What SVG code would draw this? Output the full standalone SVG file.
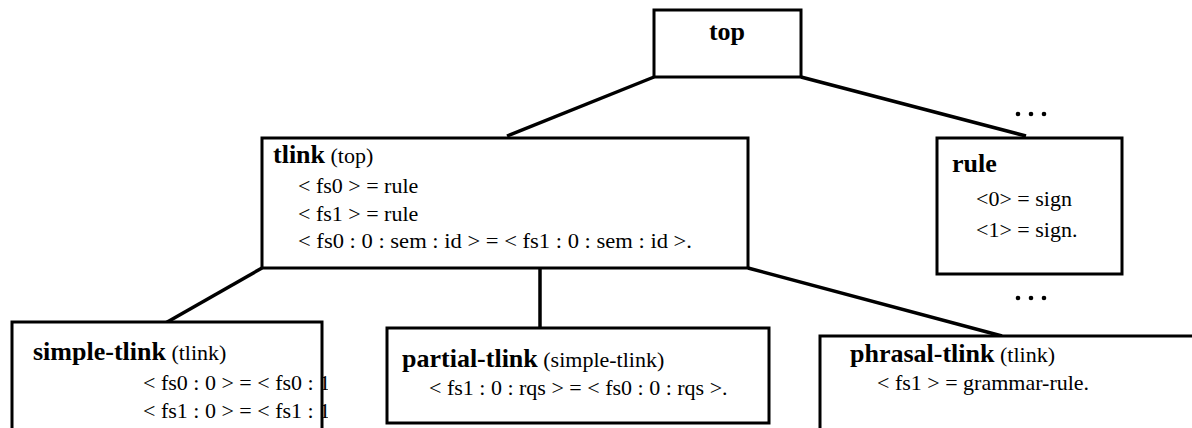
<svg xmlns="http://www.w3.org/2000/svg" width="1192" height="428" viewBox="0 0 1192 428">
<style>
.box{fill:#fff;stroke:#000;stroke-width:3}
.ln{stroke:#000;stroke-width:3.5;fill:none}
.t{font-family:"Liberation Serif","Times New Roman",serif;font-size:22px;fill:#000}
.b{font-family:"Liberation Serif","Times New Roman",serif;font-size:26px;font-weight:bold;fill:#000}
.dot{fill:#000}
</style>
<defs>
<clipPath id="clipSimple"><rect x="0" y="322" width="328" height="106"/></clipPath>
<clipPath id="clipPhrasal"><rect x="820" y="336" width="372" height="66"/></clipPath>
</defs>
<g id="connectors">
<line class="ln" x1="654" y1="77" x2="507" y2="136"/>
<line class="ln" x1="801" y1="77" x2="1026" y2="136"/>
<line class="ln" x1="262" y1="268" x2="162" y2="325"/>
<line class="ln" x1="540" y1="268" x2="540" y2="333"/>
<line class="ln" x1="748" y1="268" x2="1002" y2="336"/>
</g>
<g id="top">
<rect class="box" x="654" y="10" width="147" height="67"/>
<text class="b" x="727" y="40" text-anchor="middle">top</text>
</g>
<g id="tlink">
<rect class="box" x="262" y="138" width="486" height="130"/>
<text x="273" y="163"><tspan class="b">tlink</tspan><tspan class="t"> (top)</tspan></text>
<text class="t" x="298" y="193">&lt; fs0 &gt; = rule</text>
<text class="t" x="298" y="221">&lt; fs1 &gt; = rule</text>
<text class="t" x="298" y="248" textLength="394" lengthAdjust="spacingAndGlyphs">&lt; fs0 : 0 : sem : id &gt; = &lt; fs1 : 0 : sem : id &gt;.</text>
</g>
<g id="rule">
<rect class="box" x="937" y="138" width="185" height="136"/>
<text class="b" x="952" y="172">rule</text>
<text class="t" x="976" y="206">&lt;0&gt; = sign</text>
<text class="t" x="976" y="237">&lt;1&gt; = sign.</text>
</g>
<g id="dots-top">
<circle class="dot" cx="1018" cy="114" r="2.3"/>
<circle class="dot" cx="1031" cy="114" r="2.3"/>
<circle class="dot" cx="1044" cy="114" r="2.3"/>
</g>
<g id="dots-bottom">
<circle class="dot" cx="1018" cy="298" r="2.3"/>
<circle class="dot" cx="1031" cy="298" r="2.3"/>
<circle class="dot" cx="1044" cy="298" r="2.3"/>
</g>
<g id="simple-tlink">
<rect class="box" x="12" y="322" width="310" height="120"/>
<text x="33" y="360"><tspan class="b">simple-tlink</tspan><tspan class="t"> (tlink)</tspan></text>
<g clip-path="url(#clipSimple)">
<text class="t" x="143" y="390">&lt; fs0 : 0 &gt; = &lt; fs0 : 1</text>
<text class="t" x="143" y="418">&lt; fs1 : 0 &gt; = &lt; fs1 : 1</text>
</g>
</g>
<g id="partial-tlink">
<rect class="box" x="387" y="328" width="382" height="95"/>
<text x="402" y="367"><tspan class="b">partial-tlink</tspan><tspan class="t"> (simple-tlink)</tspan></text>
<text class="t" x="429" y="395">&lt; fs1 : 0 : rqs &gt; = &lt; fs0 : 0 : rqs &gt;.</text>
</g>
<g id="phrasal-tlink">
<rect class="box" x="820" y="336" width="380" height="110"/>
<text x="850" y="362"><tspan class="b">phrasal-tlink</tspan><tspan class="t"> (tlink)</tspan></text>
<g clip-path="url(#clipPhrasal)">
<text class="t" x="877" y="390">&lt; fs1 &gt; = grammar-rule.</text>
</g>
</g>
</svg>
